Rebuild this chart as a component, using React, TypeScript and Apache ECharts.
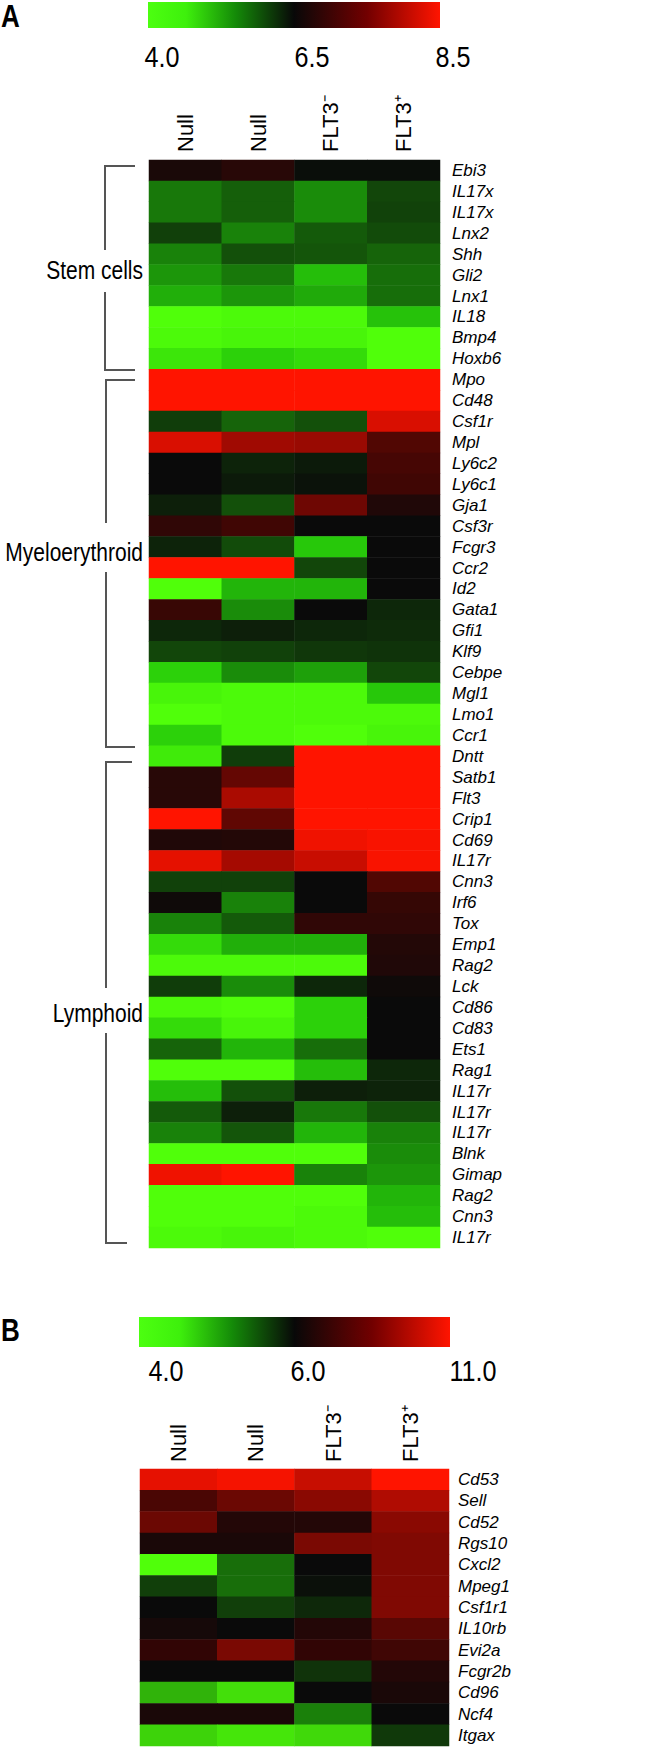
import React, { useEffect, useRef } from "react";
import * as echarts from "echarts";

// ---------- Panel A data ----------
const columnsA = ["Null", "Null", "FLT3\u207B", "FLT3\u207A"];
const genesA = [
  "Ebi3", "IL17x", "IL17x", "Lnx2", "Shh", "Gli2", "Lnx1", "IL18", "Bmp4", "Hoxb6",
  "Mpo", "Cd48", "Csf1r", "Mpl", "Ly6c2", "Ly6c1", "Gja1", "Csf3r", "Fcgr3", "Ccr2",
  "Id2", "Gata1", "Gfi1", "Klf9", "Cebpe", "Mgl1", "Lmo1", "Ccr1",
  "Dntt", "Satb1", "Flt3", "Crip1", "Cd69", "IL17r", "Cnn3", "Irf6", "Tox", "Emp1",
  "Rag2", "Lck", "Cd86", "Cd83", "Ets1", "Rag1", "IL17r", "IL17r", "IL17r", "Blnk",
  "Gimap", "Rag2", "Cnn3", "IL17r",
];
const valuesA = [
  [6.65, 6.78, 6.45, 6.45],
  [5.32, 5.57, 5.13, 5.81],
  [5.32, 5.57, 5.13, 5.85],
  [5.87, 5.23, 5.62, 5.76],
  [5.23, 5.72, 5.67, 5.52],
  [5.03, 5.32, 4.64, 5.42],
  [4.78, 5.03, 4.83, 5.42],
  [4.0, 4.05, 4.05, 4.6],
  [4.05, 4.1, 4.1, 4.0],
  [4.25, 4.45, 4.35, 4.0],
  [8.5, 8.5, 8.5, 8.5],
  [8.5, 8.5, 8.5, 8.5],
  [5.9, 5.52, 5.72, 8.2],
  [8.2, 7.75, 7.7, 7.13],
  [6.5, 6.2, 6.3, 7.05],
  [6.5, 6.3, 6.4, 7.0],
  [6.25, 5.72, 7.36, 6.7],
  [6.85, 7.0, 6.5, 6.5],
  [6.2, 5.76, 4.54, 6.5],
  [8.5, 8.5, 5.81, 6.5],
  [4.0, 4.73, 4.73, 6.5],
  [6.93, 5.13, 6.5, 6.15],
  [6.15, 6.25, 6.15, 6.1],
  [5.81, 5.86, 5.96, 6.0],
  [4.45, 5.13, 4.93, 5.81],
  [4.1, 4.05, 4.05, 4.54],
  [4.0, 4.05, 4.05, 4.05],
  [4.45, 4.05, 4.0, 4.1],
  [4.2, 5.9, 8.5, 8.5],
  [6.78, 7.28, 8.5, 8.5],
  [6.78, 7.83, 8.5, 8.5],
  [8.5, 7.25, 8.5, 8.5],
  [6.7, 6.73, 8.38, 8.45],
  [8.3, 7.79, 8.07, 8.45],
  [5.86, 5.86, 6.5, 7.13],
  [6.55, 5.23, 6.5, 6.9],
  [5.23, 5.62, 6.85, 6.85],
  [4.35, 4.78, 4.78, 6.73],
  [4.05, 4.05, 4.05, 6.7],
  [5.9, 5.13, 6.15, 6.55],
  [4.05, 4.0, 4.45, 6.5],
  [4.35, 4.1, 4.45, 6.5],
  [5.52, 4.73, 5.42, 6.5],
  [4.0, 4.0, 4.64, 6.15],
  [4.64, 5.72, 6.25, 6.2],
  [5.62, 6.25, 5.32, 5.72],
  [5.23, 5.67, 4.73, 5.23],
  [4.0, 4.0, 4.0, 5.13],
  [8.38, 8.5, 5.23, 5.03],
  [4.0, 4.0, 4.0, 4.73],
  [4.0, 4.0, 4.05, 4.64],
  [4.05, 4.1, 4.05, 4.0],
];
const scaleLabelsA = ["4.0", "6.5", "8.5"];
const scaleMinA = 4.0;
const scaleMaxA = 8.5;

// ---------- Panel B data ----------
const columnsB = ["Null", "Null", "FLT3\u207B", "FLT3\u207A"];
const genesB = [
  "Cd53", "Sell", "Cd52", "Rgs10", "Cxcl2", "Mpeg1", "Csf1r1", "IL10rb",
  "Evi2a", "Fcgr2b", "Cd96", "Ncf4", "Itgax",
];
const valuesB = [
  [10.5, 10.8, 9.9, 11.0],
  [7.45, 8.1, 8.7, 9.45],
  [8.1, 6.6, 6.6, 8.7],
  [6.4, 6.4, 8.4, 8.5],
  [4.0, 5.15, 6.0, 8.5],
  [5.55, 5.15, 5.95, 8.5],
  [6.0, 5.55, 5.75, 8.5],
  [6.3, 6.0, 6.6, 7.75],
  [6.95, 8.4, 6.95, 7.25],
  [6.0, 6.0, 5.65, 6.6],
  [4.6, 4.25, 6.0, 6.4],
  [6.4, 6.4, 5.0, 6.0],
  [4.35, 4.2, 4.3, 5.6],
];
const scaleLabelsB = ["4.0", "6.0", "11.0"];
const scaleMinB = 4.0;
const scaleMaxB = 11.0;

const groupsA = ["Stem cells", "Myeloerythroid", "Lymphoid"];

// ---------- styles ----------
const SANS = "'Liberation Sans', Arial, sans-serif";
const NARROW_SCALE = 0.84;

const colorsA = [
  "rgb(80,255,10)", "rgb(40,204,10)", "rgb(28,153,10)", "rgb(22,102,10)", "rgb(15,51,10)",
  "rgb(10,10,10)", "rgb(64,6,4)", "rgb(128,8,2)", "rgb(191,12,1)", "rgb(255,20,0)",
];
const colorsB = [
  "rgb(80,255,10)", "rgb(26,128,10)", "rgb(10,10,10)", "rgb(51,5,5)",
  "rgb(102,8,3)", "rgb(153,10,2)", "rgb(204,14,1)", "rgb(255,20,0)",
];

function toCells(values: number[][]) {
  const out: number[][] = [];
  values.forEach((row, i) => row.forEach((v, j) => out.push([j, i, v])));
  return out;
}

const barGradient = () =>
  new echarts.graphic.LinearGradient(0, 0, 1, 0, [
    { offset: 0, color: "#4cff10" },
    { offset: 0.13, color: "#3ef00c" },
    { offset: 0.3, color: "#148a08" },
    { offset: 0.5, color: "#080808" },
    { offset: 0.75, color: "#720000" },
    { offset: 1, color: "#ff1400" },
  ]);

function line(points: number[][]) {
  return {
    type: "polyline",
    shape: { points },
    style: { stroke: "#555", lineWidth: 2, fill: null },
    silent: true,
  };
}

function txt(x: number, y: number, text: string, extra: any, scaleX = 1, rotation = 0) {
  return {
    type: "text",
    x,
    y,
    scaleX,
    rotation,
    style: { text, fill: "#000", textVerticalAlign: "middle", ...extra },
    silent: true,
  };
}

export default function App() {
  const ref = useRef<HTMLDivElement>(null);

  useEffect(() => {
    if (!ref.current) return;
    const chart = echarts.init(ref.current, undefined, { renderer: "svg" });

    const xAxisBase = (gridIndex: number, data: string[]) => ({
      type: "category",
      gridIndex,
      position: "top",
      data,
      axisLine: { show: false },
      axisTick: { show: false },
      splitLine: { show: false },
      axisLabel: { show: false },
    });
    const yAxisBase = (gridIndex: number, data: string[], margin: number) => ({
      type: "category",
      gridIndex,
      position: "right",
      inverse: true,
      data,
      axisLine: { show: false },
      axisTick: { show: false },
      splitLine: { show: false },
      axisLabel: {
        interval: 0,
        margin,
        fontSize: 17,
        fontStyle: "italic",
        color: "#000",
        fontFamily: SANS,
      },
    });

    const gridA = { left: 149, top: 160, width: 291, height: 1088 };
    const gridB = { left: 140, top: 1469, width: 309, height: 277 };

    const option: any = {
      animation: false,
      backgroundColor: "#fff",
      grid: [gridA, gridB],
      xAxis: [xAxisBase(0, columnsA), xAxisBase(1, columnsB)],
      yAxis: [yAxisBase(0, genesA, 12), yAxisBase(1, genesB, 9)],
      visualMap: [
        {
          type: "continuous",
          show: false,
          seriesIndex: 0,
          min: scaleMinA,
          max: scaleMaxA,
          inRange: { color: colorsA },
        },
        {
          type: "continuous",
          show: false,
          seriesIndex: 1,
          min: scaleMinB,
          max: scaleMaxB,
          inRange: { color: colorsB },
        },
      ],
      series: [
        {
          type: "heatmap",
          xAxisIndex: 0,
          yAxisIndex: 0,
          data: toCells(valuesA),
          itemStyle: { borderWidth: 0 },
          emphasis: { disabled: true },
        },
        {
          type: "heatmap",
          xAxisIndex: 1,
          yAxisIndex: 1,
          data: toCells(valuesB),
          itemStyle: { borderWidth: 0 },
          emphasis: { disabled: true },
        },
      ],
    };
    chart.setOption(option);

    // column labels placed at the axis category centres (via the library's scale)
    const colLabels: any[] = [];
    columnsA.forEach((c, j) => {
      const px = chart.convertToPixel({ xAxisIndex: 0 }, j) as number;
      colLabels.push(
        txt(px, gridA.top - 8, c, { font: `22px ${SANS}`, textAlign: "left" }, 1, Math.PI / 2)
      );
    });
    columnsB.forEach((c, j) => {
      const px = chart.convertToPixel({ xAxisIndex: 1 }, j) as number;
      colLabels.push(
        txt(px, gridB.top - 7, c, { font: `22px ${SANS}`, textAlign: "left" }, 1, Math.PI / 2)
      );
    });

    chart.setOption({
      graphic: [
        ...colLabels,
        // panel letters
        txt(1, 16, "A", { font: `bold 31px ${SANS}` }, NARROW_SCALE),
        txt(1, 1330, "B", { font: `bold 31px ${SANS}` }, NARROW_SCALE),
        // colour bars
        {
          type: "rect",
          shape: { x: 148, y: 2, width: 292, height: 26 },
          style: { fill: barGradient() },
          silent: true,
        },
        {
          type: "rect",
          shape: { x: 139, y: 1317, width: 311, height: 30 },
          style: { fill: barGradient() },
          silent: true,
        },
        txt(162, 57, scaleLabelsA[0], { font: `30px ${SANS}`, textAlign: "center" }, NARROW_SCALE),
        txt(312, 57, scaleLabelsA[1], { font: `30px ${SANS}`, textAlign: "center" }, NARROW_SCALE),
        txt(453, 57, scaleLabelsA[2], { font: `30px ${SANS}`, textAlign: "center" }, NARROW_SCALE),
        txt(166, 1371, scaleLabelsB[0], { font: `30px ${SANS}`, textAlign: "center" }, NARROW_SCALE),
        txt(308, 1371, scaleLabelsB[1], { font: `30px ${SANS}`, textAlign: "center" }, NARROW_SCALE),
        txt(473, 1371, scaleLabelsB[2], { font: `30px ${SANS}`, textAlign: "center" }, NARROW_SCALE),
        // group labels
        txt(143, 270, groupsA[0], { font: `25px ${SANS}`, textAlign: "right" }, NARROW_SCALE),
        txt(143, 552, groupsA[1], { font: `25px ${SANS}`, textAlign: "right" }, NARROW_SCALE),
        txt(143, 1013, groupsA[2], { font: `25px ${SANS}`, textAlign: "right" }, NARROW_SCALE),
        // brackets
        line([[135, 166], [105, 166], [105, 250]]),
        line([[105, 292], [105, 370], [135, 370]]),
        line([[135, 380], [106, 380], [106, 523]]),
        line([[106, 572], [106, 747], [135, 747]]),
        line([[132, 762], [106, 762], [106, 988]]),
        line([[106, 1033], [106, 1243], [127, 1243]]),
      ],
    });

    return () => chart.dispose();
  }, []);

  return (
    <div
      ref={ref}
      style={{ position: "absolute", left: 0, top: 0, width: 649, height: 1747, background: "#fff" }}
    />
  );
}
